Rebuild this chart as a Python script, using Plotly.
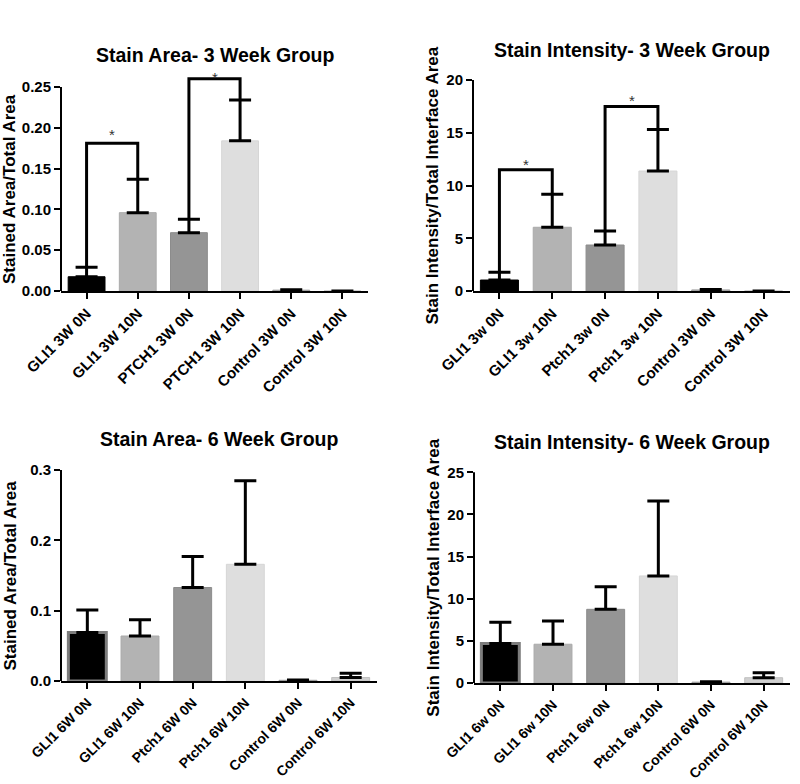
import plotly.graph_objects as go

# ---------------- data ----------------
labels_area_3w = ["GLI1 3W 0N", "GLI1 3W 10N", "PTCH1 3W 0N", "PTCH1 3W 10N", "Control 3W 0N", "Control 3W 10N"]
area_3w = [0.0175, 0.096, 0.0715, 0.184, 0.001, 0.0]
area_3w_sem = [0.0115, 0.041, 0.0165, 0.050, 0.0005, 0.0]

labels_int_3w = ["GLI1 3w 0N", "GLI1 3w 10N", "Ptch1 3w 0N", "Ptch1 3w 10N", "Control 3W 0N", "Control 3W 10N"]
int_3w = [1.04, 6.04, 4.36, 11.37, 0.10, 0.0]
int_3w_sem = [0.73, 3.12, 1.33, 3.93, 0.05, 0.0]

labels_area_6w = ["GLI1 6W 0N", "GLI1 6W 10N", "Ptch1 6W 0N", "Ptch1 6W 10N", "Control 6W 0N", "Control 6W 10N"]
area_6w = [0.069, 0.064, 0.133, 0.166, 0.001, 0.005]
area_6w_sem = [0.032, 0.023, 0.044, 0.119, 0.0005, 0.006]

labels_int_6w = ["GLI1 6w 0N", "GLI1 6w 10N", "Ptch1 6w 0N", "Ptch1 6w 10N", "Control 6W 0N", "Control 6W 10N"]
int_6w = [4.7, 4.6, 8.74, 12.7, 0.10, 0.63]
int_6w_sem = [2.5, 2.75, 2.69, 8.9, 0.05, 0.59]

# significance brackets: (bar i, bar j, bracket level, star level)
sig_area_3w = [(0, 1, 0.181, 0.197), (2, 3, 0.260, 0.266)]
sig_int_3w = [(0, 1, 11.5, 12.4), (2, 3, 17.5, 18.45)]

titles = ["Stain Area- 3 Week Group", "Stain Intensity- 3 Week Group",
          "Stain Area- 6 Week Group", "Stain Intensity- 6 Week Group"]
ytitles = ["Stained Area/Total Area", "Stain Intensity/Total Interface Area",
           "Stained Area/Total Area", "Stain Intensity/Total Interface Area"]

# ---------------- style ----------------
FONT = "Liberation Sans, Arial, sans-serif"
bar_fill = ["#000000", "#b3b3b3", "#959595", "#dedede", "#b8b8b8", "#cfcfcf"]
bar_line_3w = ["#000000", "#aaaaaa", "#8c8c8c", "#d6d6d6", "#999999", "#c0c0c0"]
bar_line_6w = ["#7d7d7d", "#aaaaaa", "#8c8c8c", "#d6d6d6", "#999999", "#c0c0c0"]
bar_lw_6w = [3, 1, 1, 1, 1, 1]

W, H = 800, 784


def fx(px):
    return px / W


def fy(py):
    return 1 - py / H


# panel geometry in page pixels
panels = [
    dict(x0=61, x1=368, z=291, ppu=816, top=0.25, rtop=0.28, dtick=0.05, fmt=".2f", ty=55, yx=9, xfs=15),
    dict(x0=473, x1=790, z=291, ppu=10.55, top=20, rtop=21.5, dtick=5, fmt="d", ty=50, yx=432, xfs=15),
    dict(x0=61, x1=377, z=681, ppu=703, top=0.3, rtop=0.303, dtick=0.1, fmt=".1f", ty=439, yx=11, xfs=14),
    dict(x0=474, x1=790, z=683, ppu=8.43, top=25, rtop=25.3, dtick=5, fmt="d", ty=442, yx=434, xfs=14),
]

datasets = [
    (labels_area_3w, area_3w, area_3w_sem, sig_area_3w, bar_line_3w, [1] * 6),
    (labels_int_3w, int_3w, int_3w_sem, sig_int_3w, bar_line_3w, [1] * 6),
    (labels_area_6w, area_6w, area_6w_sem, [], bar_line_6w, bar_lw_6w),
    (labels_int_6w, int_6w, int_6w_sem, [], bar_line_6w, bar_lw_6w),
]

fig = go.Figure()
annotations = []
shapes = []

for k, (p, (labs, vals, sems, sigs, lcols, lws)) in enumerate(zip(panels, datasets)):
    n = k + 1
    xa = "x" if n == 1 else f"x{n}"
    ya = "y" if n == 1 else f"y{n}"
    xs = list(range(len(labs)))
    fig.add_trace(go.Bar(
        x=xs, y=vals, xaxis=xa, yaxis=ya, width=0.72,
        marker=dict(color=bar_fill, line=dict(color=lcols, width=lws)),
        error_y=dict(type="data", symmetric=False, array=sems, arrayminus=[0] * len(sems),
                     color="black", thickness=3, width=11),
        showlegend=False, hoverinfo="skip",
    ))
    for (i, j, lvl, slvl) in sigs:
        fig.add_trace(go.Scatter(
            x=[i, i, j, j], y=[vals[i] + sems[i], lvl, lvl, vals[j] + sems[j]],
            xaxis=xa, yaxis=ya, mode="lines", line=dict(color="black", width=3),
            showlegend=False, hoverinfo="skip", cliponaxis=False,
        ))
        annotations.append(dict(x=(i + j) / 2, y=slvl, xref=xa, yref=ya, text="*",
                                showarrow=False, yanchor="middle", yshift=-4,
                                font=dict(family=FONT, size=15, color="#333333")))

    ytop_px = p["z"] - p["rtop"] * p["ppu"]
    dom_x = [fx(p["x0"]), fx(p["x1"])]
    dom_y = [fy(p["z"]), fy(ytop_px)]
    axkey_x = "xaxis" if n == 1 else f"xaxis{n}"
    axkey_y = "yaxis" if n == 1 else f"yaxis{n}"
    fig.layout[axkey_x] = dict(
        domain=dom_x, anchor=ya, range=[-0.5, len(labs) - 0.5], automargin=False,
        tickmode="array", tickvals=xs, ticktext=labs, tickangle=-45,
        showline=True, linecolor="black", linewidth=2,
        ticks="outside", ticklen=6, tickwidth=2, tickcolor="black",
        tickfont=dict(family=FONT, size=p["xfs"], color="black", weight="bold"),
        showgrid=False, zeroline=False, fixedrange=True,
    )
    fig.layout[axkey_y] = dict(
        domain=dom_y, anchor=xa, range=[0, p["rtop"]], automargin=False,
        tickmode="linear", tick0=0, dtick=p["dtick"], tickformat=p["fmt"],
        showline=False, ticks="outside", ticklen=6, tickwidth=2, tickcolor="black",
        tickfont=dict(family=FONT, size=15, color="black", weight="bold"),
        showgrid=False, zeroline=False, fixedrange=True,
    )
    axis_top_paper = fy(p["z"] - p["top"] * p["ppu"])
    shapes.append(dict(type="line", xref="paper", yref="paper",
                       x0=dom_x[0], x1=dom_x[0], y0=dom_y[0], y1=axis_top_paper,
                       line=dict(color="black", width=2)))
    annotations.append(dict(x=(dom_x[0] + dom_x[1]) / 2, y=fy(p["ty"]), xref="paper", yref="paper",
                            text=titles[k], showarrow=False, xanchor="center", yanchor="middle",
                            font=dict(family=FONT, size=19.5, color="black", weight="bold")))
    annotations.append(dict(x=fx(p["yx"]), y=(dom_y[0] + axis_top_paper) / 2, xref="paper", yref="paper",
                            text=ytitles[k], showarrow=False, textangle=-90,
                            xanchor="center", yanchor="middle",
                            font=dict(family=FONT, size=17, color="black", weight="bold")))

fig.update_layout(
    width=W, height=H, margin=dict(l=0, r=0, t=0, b=0, autoexpand=False),
    paper_bgcolor="white", plot_bgcolor="white", template="none",
    annotations=annotations, shapes=shapes,
)

fig.write_html("out.html", config={"displayModeBar": False, "staticPlot": True},
               post_script="document.body.style.margin='0px';")
